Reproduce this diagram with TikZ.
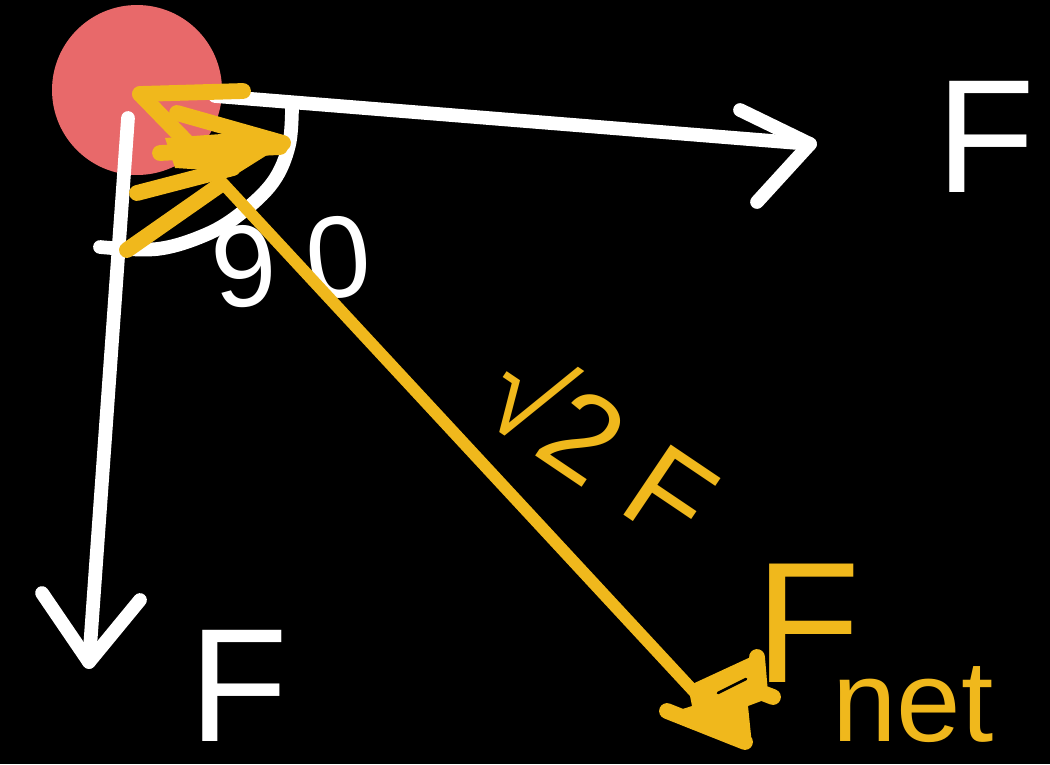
\documentclass[tikz,border=0pt]{standalone}
\usepackage{fontspec}
\setmainfont{Liberation Sans}
\definecolor{ballred}{HTML}{E8696A}
\definecolor{sketchyel}{HTML}{F0B81C}
\begin{document}
\begin{tikzpicture}[x=0.02cm,y=-0.02cm,
  wline/.style={draw=white,line width=7.8pt,line cap=round,line join=round},
  yline/.style={draw=sketchyel,line width=6.8pt,line cap=round,line join=round},
  ythick/.style={draw=sketchyel,line width=9pt,line cap=round,line join=round},
  wlabel/.style={text=white,inner sep=0pt,font=\fontsize{92}{96}\selectfont},
  ylabel/.style={text=sketchyel,inner sep=0pt}]
% background / bounding box
\fill[black] (0,0) rectangle (1050,764);
% ball
\node[circle,fill=ballred,minimum size=3.4cm,inner sep=0pt] (ball) at (137,90) {};
% horizontal force arrow
\coordinate (hs) at (215,96);
\coordinate (ht) at (810,144);
\coordinate (hb1) at (740,110);
\coordinate (hb2) at (757,202);
\draw[wline] (hs) -- (ht);
\draw[wline] (hb1) -- (ht) -- (hb2);
% vertical force arrow
\coordinate (vs) at (128,118);
\coordinate (vt) at (89,662);
\coordinate (vb1) at (42,593);
\coordinate (vb2) at (140,600);
\draw[wline] (vs) -- (vt);
\draw[wline] (vb1) -- (vt) -- (vb2);
% right-angle arc
\draw[wline] plot[smooth,tension=0.6] coordinates {(292,104) (289,145) (273,182) (240,214) (205,235) (157,249) (100,247)};
% labels (white)
\node[wlabel,anchor=base west] (fright) at (936,192) {F};
\node[wlabel,anchor=base west] (fbottom) at (189,741) {F};
\node[text=white,inner sep=0pt,anchor=base west,rotate=6,font=\fontsize{66}{70}\selectfont] (ninety) at (216,310) {9\kern17pt0};
% resultant (yellow)
\coordinate (ys) at (140,94);
\coordinate (yt) at (700,698);
\draw[yline] (ys) -- (yt);
% scribbled head near the ball
\fill[sketchyel] (165,138) -- (250,132) -- (283,145) -- (240,172) -- (175,168) -- cycle;
\draw[ythick] (243,91) -- (ys);
\draw[ythick] (ys) -- (212,168);
\draw[ythick] (177,113) -- (283,143);
\draw[ythick] (160,153) -- (280,147);
\draw[ythick] (137,193) -- (233,168);
\draw[ythick] (127,250) -- (220,185);
% scribbled head at the far end
\fill[sketchyel] (688,686) -- (755,655) -- (760,690) -- (772,697) -- (748,706) -- (752,745) -- (740,747) -- (670,713) -- (692,706) -- cycle;
\draw[ythick] (667,711) -- (745,742);
\draw[ythick] (757,657) -- (760,692) -- (773,697);
\draw[black,line width=1.5pt,line cap=round] (718,693) -- (746,679);
% yellow labels
\node[ylabel,rotate=-34,font=\fontsize{70}{72}\selectfont] (root) at (603,443) {√2 F};
\node[ylabel,anchor=base west,font=\fontsize{98}{100}\selectfont] (fnet) at (755,682) {F\kern-16pt\raisebox{-34pt}{\fontsize{66}{70}\selectfont net}};
\end{tikzpicture}
\end{document}
